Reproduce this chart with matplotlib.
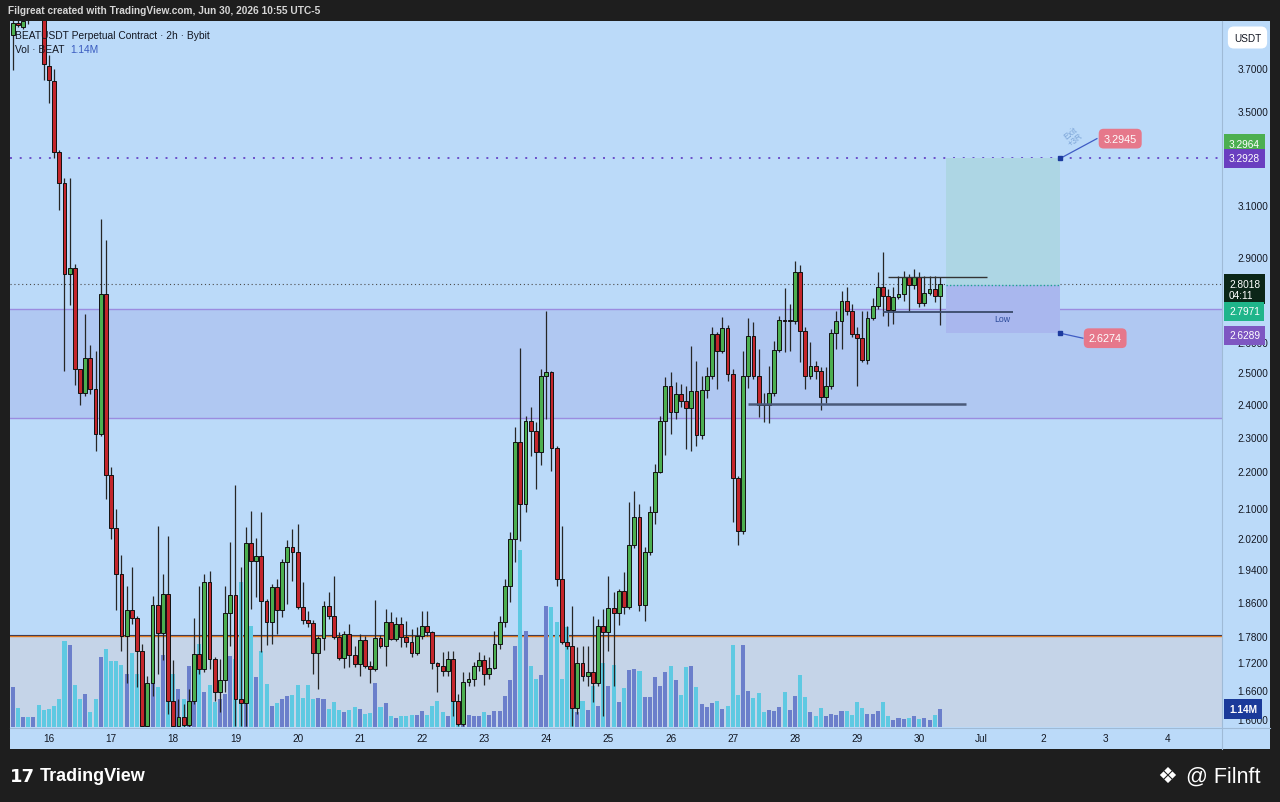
import numpy as np
import matplotlib
matplotlib.use("Agg")
import matplotlib.pyplot as plt
from matplotlib import transforms
from matplotlib.patches import Rectangle
from matplotlib.lines import Line2D
from matplotlib.ticker import NullLocator

plt.rcParams['font.family'] = ['Liberation Sans', 'DejaVu Sans']

# ---------------- data (2h candles, BEATUSDT, 15 Jun 10:00 -> 30 Jun 08:00) ----------------
opens = np.array([
    3.861, 3.921, 3.901, 3.99, 3.96, 4.02, 4.00, 3.709, 3.638, 3.320,
    3.191, 2.838, 2.860, 2.510, 2.434, 2.546, 2.447, 2.309, 2.765, 2.190,
    2.046, 1.927, 1.780, 1.841, 1.821, 1.746, 1.585, 1.675, 1.852, 1.787,
    1.878, 1.637, 1.585, 1.603, 1.587, 1.637, 1.739, 1.705, 1.908, 1.728,
    1.656, 1.682, 1.833, 1.876, 1.641, 1.632, 2.006, 1.960, 1.973, 1.861,
    1.812, 1.896, 1.841, 1.957, 1.996, 1.983, 1.847, 1.817, 1.810, 1.741,
    1.775, 1.850, 1.826, 1.778, 1.730, 1.785, 1.737, 1.716, 1.771, 1.712,
    1.705, 1.775, 1.757, 1.812, 1.773, 1.807, 1.778, 1.766, 1.741, 1.780,
    1.803, 1.789, 1.719, 1.712, 1.701, 1.728, 1.637, 1.589, 1.677, 1.684,
    1.712, 1.726, 1.694, 1.707, 1.761, 1.812, 1.898, 2.016, 2.285, 2.110,
    2.348, 2.318, 2.255, 2.488, 2.500, 2.267, 1.915, 1.766, 1.757, 1.622,
    1.719, 1.690, 1.699, 1.675, 1.803, 1.789, 1.845, 1.833, 1.886, 1.847,
    2.001, 2.074, 1.852, 1.983, 2.088, 2.199, 2.348, 2.456, 2.375, 2.431,
    2.409, 2.387, 2.440, 2.306, 2.443, 2.488, 2.626, 2.569, 2.647, 2.494,
    2.182, 2.038, 2.488, 2.619, 2.488, 2.399, 2.396, 2.434, 2.572, 2.674,
    2.671, 2.672, 2.845, 2.636, 2.488, 2.520, 2.504, 2.422, 2.456, 2.630,
    2.671, 2.740, 2.705, 2.626, 2.612, 2.540, 2.681, 2.722, 2.790, 2.758,
    2.709, 2.754, 2.765, 2.826, 2.797, 2.826, 2.733, 2.769, 2.783, 2.758])
highs = np.array([
    3.97, 3.941, 3.951, 4.03, 4.06, 4.08, 4.03, 3.763, 3.695, 3.329,
    3.211, 3.211, 2.875, 2.510, 2.695, 2.589, 2.569, 3.046, 2.964, 2.213,
    2.096, 1.975, 1.898, 1.945, 1.826, 1.761, 1.690, 1.873, 2.051, 1.927,
    2.024, 1.726, 1.641, 1.630, 1.662, 1.821, 1.898, 1.927, 1.935, 1.732,
    1.728, 1.898, 2.008, 2.162, 1.945, 2.048, 2.091, 2.019, 2.088, 1.866,
    1.903, 1.915, 1.965, 2.014, 2.043, 2.056, 1.908, 1.838, 1.817, 1.780,
    1.861, 1.884, 1.922, 1.789, 1.791, 1.807, 1.757, 1.785, 1.780, 1.723,
    1.864, 1.782, 1.843, 1.836, 1.824, 1.824, 1.814, 1.796, 1.801, 1.838,
    1.838, 1.791, 1.721, 1.744, 1.746, 1.746, 1.651, 1.699, 1.699, 1.721,
    1.744, 1.737, 1.732, 1.791, 1.826, 1.915, 2.035, 2.330, 2.579, 2.363,
    2.390, 2.345, 2.510, 2.705, 2.504, 2.273, 2.051, 1.803, 1.850, 1.755,
    1.757, 1.757, 1.826, 1.819, 1.843, 1.922, 1.884, 1.891, 1.932, 2.115,
    2.145, 2.110, 1.996, 2.104, 2.221, 2.363, 2.484, 2.500, 2.469, 2.462,
    2.456, 2.586, 2.536, 2.488, 2.517, 2.650, 2.633, 2.685, 2.657, 2.510,
    2.188, 2.569, 2.681, 2.667, 2.576, 2.434, 2.520, 2.602, 2.688, 2.787,
    2.730, 2.886, 2.871, 2.650, 2.599, 2.536, 2.517, 2.517, 2.643, 2.705,
    2.776, 2.790, 2.730, 2.650, 2.705, 2.705, 2.751, 2.845, 2.919, 2.783,
    2.790, 2.830, 2.849, 2.838, 2.856, 2.845, 2.830, 2.830, 2.830, 2.826])
lows = np.array([
    3.690, 3.901, 3.891, 3.916, 3.95, 3.97, 3.643, 3.537, 3.295, 3.081,
    2.504, 2.726, 2.459, 2.396, 2.425, 2.431, 2.258, 2.303, 2.123, 2.016,
    1.841, 1.746, 1.675, 1.807, 1.666, 1.583, 1.581, 1.647, 1.694, 1.726,
    1.609, 1.579, 1.579, 1.579, 1.579, 1.630, 1.694, 1.699, 1.705, 1.637,
    1.614, 1.656, 1.757, 1.585, 1.585, 1.585, 1.843, 1.871, 1.744, 1.759,
    1.761, 1.785, 1.824, 1.855, 1.910, 1.843, 1.807, 1.801, 1.694, 1.662,
    1.748, 1.819, 1.773, 1.726, 1.707, 1.710, 1.710, 1.690, 1.707, 1.675,
    1.701, 1.752, 1.712, 1.771, 1.768, 1.755, 1.755, 1.732, 1.737, 1.773,
    1.780, 1.705, 1.656, 1.690, 1.690, 1.605, 1.585, 1.585, 1.669, 1.669,
    1.701, 1.671, 1.684, 1.705, 1.750, 1.801, 1.859, 1.958, 2.011, 2.088,
    2.244, 2.151, 2.218, 2.354, 2.201, 1.898, 1.761, 1.750, 1.585, 1.609,
    1.679, 1.669, 1.634, 1.669, 1.605, 1.746, 1.669, 1.805, 1.831, 1.843,
    1.993, 1.838, 1.814, 1.975, 2.056, 2.196, 2.247, 2.309, 2.354, 2.390,
    2.264, 2.258, 2.273, 2.294, 2.418, 2.478, 2.447, 2.563, 2.472, 2.061,
    2.001, 2.030, 2.450, 2.478, 2.360, 2.345, 2.342, 2.425, 2.566, 2.566,
    2.569, 2.660, 2.533, 2.447, 2.478, 2.478, 2.381, 2.403, 2.447, 2.576,
    2.576, 2.692, 2.616, 2.456, 2.533, 2.527, 2.674, 2.712, 2.688, 2.654,
    2.660, 2.747, 2.740, 2.705, 2.783, 2.719, 2.723, 2.762, 2.737, 2.657])
closes = np.array([
    3.921, 3.911, 3.931, 3.96, 4.02, 4.00, 3.719, 3.643, 3.320, 3.191,
    2.838, 2.860, 2.510, 2.434, 2.546, 2.447, 2.309, 2.765, 2.190, 2.046,
    1.927, 1.780, 1.841, 1.821, 1.746, 1.585, 1.675, 1.852, 1.787, 1.878,
    1.637, 1.585, 1.603, 1.587, 1.637, 1.739, 1.705, 1.908, 1.728, 1.656,
    1.682, 1.833, 1.876, 1.641, 1.632, 2.006, 1.960, 1.973, 1.861, 1.812,
    1.896, 1.841, 1.957, 1.996, 1.983, 1.847, 1.817, 1.810, 1.741, 1.775,
    1.850, 1.826, 1.778, 1.730, 1.785, 1.737, 1.716, 1.771, 1.712, 1.705,
    1.775, 1.757, 1.812, 1.773, 1.807, 1.778, 1.766, 1.741, 1.780, 1.803,
    1.789, 1.719, 1.712, 1.701, 1.728, 1.637, 1.589, 1.677, 1.684, 1.712,
    1.726, 1.694, 1.707, 1.761, 1.812, 1.898, 2.016, 2.285, 2.110, 2.348,
    2.318, 2.255, 2.488, 2.500, 2.267, 1.915, 1.766, 1.757, 1.622, 1.719,
    1.690, 1.699, 1.675, 1.803, 1.789, 1.845, 1.833, 1.886, 1.847, 2.001,
    2.074, 1.852, 1.983, 2.088, 2.199, 2.348, 2.456, 2.375, 2.431, 2.409,
    2.387, 2.440, 2.306, 2.443, 2.488, 2.626, 2.569, 2.647, 2.494, 2.182,
    2.038, 2.488, 2.619, 2.488, 2.396, 2.396, 2.434, 2.572, 2.674, 2.671,
    2.672, 2.845, 2.636, 2.488, 2.520, 2.504, 2.422, 2.456, 2.630, 2.671,
    2.740, 2.705, 2.626, 2.612, 2.540, 2.681, 2.722, 2.790, 2.758, 2.709,
    2.754, 2.765, 2.826, 2.797, 2.826, 2.733, 2.769, 2.783, 2.758, 2.8018])
# volume in millions
volumes = np.array([
    2.53, 1.20, 0.63, 0.63, 0.63, 1.39, 1.08, 1.14, 1.33, 1.77,
    5.44, 5.19, 2.66, 1.77, 2.09, 0.95, 1.77, 4.43, 4.94, 4.18,
    4.18, 3.92, 3.35, 4.68, 3.35, 3.23, 2.22, 5.38, 2.53, 4.56,
    5.38, 3.35, 2.41, 1.77, 3.86, 4.30, 5.25, 2.22, 2.66, 1.58,
    1.77, 2.09, 4.49, 4.30, 9.18, 5.57, 6.39, 3.17, 4.81, 2.72,
    1.33, 1.52, 1.77, 1.96, 2.03, 2.66, 1.84, 2.66, 1.77, 1.84,
    1.77, 1.14, 1.58, 1.08, 0.95, 1.08, 1.27, 1.14, 0.82, 0.89,
    2.79, 1.27, 1.52, 0.70, 0.57, 0.70, 0.70, 0.76, 0.76, 1.01,
    0.76, 1.33, 1.65, 0.95, 0.70, 1.58, 0.70, 0.76, 0.76, 0.70,
    0.70, 0.95, 0.76, 1.01, 1.01, 1.96, 2.98, 5.13, 11.2, 6.08,
    3.86, 3.04, 3.29, 7.66, 7.60, 6.65, 3.04, 6.33, 1.77, 0.95,
    1.65, 1.08, 2.60, 1.33, 4.05, 2.60, 3.92, 1.58, 2.47, 3.61,
    3.67, 3.54, 1.90, 1.90, 3.17, 2.60, 3.48, 3.86, 2.98, 2.03,
    3.80, 3.86, 2.53, 1.46, 1.27, 1.52, 1.65, 1.14, 1.33, 5.19,
    2.03, 5.19, 2.28, 1.84, 2.15, 0.95, 1.08, 1.01, 1.27, 2.22,
    1.08, 1.96, 3.29, 1.90, 0.95, 0.70, 1.20, 0.70, 0.82, 0.76,
    1.01, 1.01, 0.76, 1.58, 1.20, 0.82, 0.82, 1.01, 1.58, 0.70,
    0.44, 0.57, 0.51, 0.57, 0.70, 0.51, 0.57, 0.44, 0.76, 1.14])

day_labels = ["16", "17", "18", "19", "20", "21", "22", "23", "24", "25",
              "26", "27", "28", "29", "30", "Jul", "2", "3", "4"]
day_idx = [7 + 12 * k for k in range(len(day_labels))]   # candle index of 00:00

price_ticks = [3.7, 3.5, 3.1, 2.9, 2.6, 2.5, 2.4, 2.3, 2.2, 2.1, 2.02,
               1.94, 1.86, 1.78, 1.72, 1.66, 1.60]

last_price = 2.8018
entry, target, stop = 2.7971, 3.2928, 2.6289
target_tag = 3.2964
hline_level = 3.2928
zone_top, zone_bot = 2.712, 2.357
vol_zone_top = 1.78
level_240, level_282, level_low = 2.400, 2.826, 2.702
note_exit, note_stop = "3.2945", "2.6274"

# ---------------- styling ----------------
BG = "#bbdaf9"
GREEN = "#4caf50"
RED = "#c4262c"
VOL_UP = "#6b7fcb"
VOL_DN = "#5ec9e2"
TXT = "#131722"
VOL_TOP = 44.7      # volume (M) at the top of the pane

W, H = 1280, 803
fig = plt.figure(figsize=(12.8, 8.03), dpi=100, facecolor="#1e1e1e")


def fx(px):
    return px / W


def fy(py):
    return 1 - py / H


fig.patches.append(Rectangle((fx(10), fy(750)), fx(1270) - fx(10), fy(22) - fy(750),
                             transform=fig.transFigure, facecolor=BG,
                             edgecolor="none", zorder=-5))

ax = fig.add_axes([fx(10), fy(728), fx(1222) - fx(10), fy(22) - fy(728)])
ax.set_facecolor(BG)
ax.set_yscale("log")
for s in ax.spines.values():
    s.set_visible(False)

# zones / levels
ax.axhspan(zone_bot, zone_top, color="#b0c8f2", zorder=0.5, lw=0)
ax.axhline(zone_top, color="#9b8ce0", lw=1, zorder=1)
ax.axhline(zone_bot, color="#9b8ce0", lw=1, zorder=1)
ax.axhspan(1.0, vol_zone_top, color="#c5d4e8", zorder=0.5, lw=0)
ax.axhline(vol_zone_top * 1.0012, color="#1f2d5c", lw=0.8, zorder=1)
ax.axhline(vol_zone_top * 0.9992, color="#e07b22", lw=1, zorder=1)
ax.axhline(hline_level, color="#6a4fc9", lw=1.4, ls=(0, (1, 4)), zorder=1)
ax.axhline(last_price, color="#4a4a4a", lw=0.8, ls=(0, (1, 2.5)), zorder=1)

# long position tool
x0, x1 = 180.2, 202.2
ax.fill_between([x0, x1], entry, target, color="#add6e4", lw=0, zorder=1.2)
ax.fill_between([x0, x1], stop, entry, color="#a9b7ee", lw=0, zorder=1.2)
ax.hlines(entry, x0, x1, color="#1fa58f", lw=1, linestyles=(0, (1, 1.5)), zorder=1.3)

# volume bars (axes-fraction heights)
idx = np.arange(len(opens))
up = closes >= opens
ax.bar(idx, volumes / VOL_TOP, bottom=0, width=0.78,
       color=np.where(up, VOL_UP, VOL_DN), transform=ax.get_xaxis_transform(),
       zorder=2, lw=0)

# candles
ax.vlines(idx, lows, highs, color="#262626", lw=0.9, zorder=3)
body = np.maximum(np.abs(closes - opens), 0.0015)
ax.bar(idx, body, bottom=np.minimum(opens, closes), width=0.74,
       color=np.where(up, GREEN, RED), edgecolor="#111111", linewidth=0.7, zorder=4)

# horizontal drawings
ax.hlines(level_240, 141.9, 184.0, color="#4a5a7a", lw=1.8, zorder=5)
ax.hlines(level_282, 169.0, 188.1, color="#333333", lw=1.0, zorder=5)
ax.hlines(level_low, 168.0, 193.1, color="#3a4a6a", lw=1.3, zorder=5)
ax.text(191, 2.680, "Low", fontsize=6.3, color="#2c4a9a", ha="center", va="center", zorder=6)

# notes on the position tool
ax.plot([x1, 209.3], [target, 3.378], color="#3f5cc4", lw=0.9, zorder=6)
ax.plot([x1, 206.6], [stop, 2.612], color="#3f5cc4", lw=0.9, zorder=6)
ax.plot([x1, x1], [target, stop], ls="none", marker="s", ms=3, color="#1c3a9e", zorder=7)
ax.text(213.8, 3.378, note_exit, ha="center", va="center", fontsize=7.8, color="white",
        bbox=dict(boxstyle="round,pad=0.45", fc="#e6788b", ec="none"), zorder=8)
ax.text(210.9, 2.612, note_stop, ha="center", va="center", fontsize=7.8, color="white",
        bbox=dict(boxstyle="round,pad=0.45", fc="#e6788b", ec="none"), zorder=8)
ax.text(204.6, 3.39, "Exit\n+3R", ha="center", va="center", fontsize=6.2, color="#7ea6d8",
        rotation=38, linespacing=0.9, zorder=8)

ax.set_xlim(-0.52, 233.45)
ax.set_ylim(1.5826, 3.931)

# axes ticks
ax.yaxis.tick_right()
ax.set_yticks(price_ticks)
ax.set_yticklabels([f"{t:.4f}" for t in price_ticks])
ax.yaxis.set_minor_locator(NullLocator())
ax.tick_params(axis="y", length=0, pad=11, labelsize=7.2, labelcolor=TXT)
ax.set_xticks(day_idx)
ax.set_xticklabels(day_labels)
ax.tick_params(axis="x", length=0, pad=4, labelsize=7.2, labelcolor=TXT)

# price tags on the right scale
tag_tr = transforms.blended_transform_factory(fig.transFigure, ax.transData)


def price_tag(price, text, fc, dy=0):
    ax.annotate(text, xy=(fx(1229), price), xycoords=tag_tr, xytext=(0, dy),
                textcoords="offset points", ha="left", va="center", fontsize=7.3,
                color="white", annotation_clip=False, zorder=10, linespacing=1.1,
                bbox=dict(boxstyle="square,pad=0.45", fc=fc, ec="none"))


price_tag(target_tag, f"{target_tag:.4f}", "#4caf50", dy=10)
price_tag(hline_level, f"{hline_level:.4f}", "#6a3fc0")
price_tag(last_price, f"{last_price:.4f}\n04:11", "#0b2618", dy=-4)
price_tag(entry, f"{entry:.4f}", "#1fb58a", dy=-19)
price_tag(stop, f"{stop:.4f}", "#7e57c2", dy=-1.5)
vol_tr = transforms.blended_transform_factory(fig.transFigure, ax.transAxes)
ax.annotate("1.14M", xy=(fx(1229), volumes[-1] / VOL_TOP), xycoords=vol_tr,
            ha="left", va="center", fontsize=7.3, color="white", fontweight="bold",
            annotation_clip=False, zorder=10,
            bbox=dict(boxstyle="square,pad=0.45", fc="#1a3a9a", ec="none"))

# scale separators
fig.add_artist(Line2D([fx(1222), fx(1222)], [fy(22), fy(750)], color="#9fbad6", lw=0.8))
fig.add_artist(Line2D([fx(10), fx(1270)], [fy(728.5), fy(728.5)], color="#9fbad6", lw=0.8))

fig.text(fx(1247.5), fy(38.5), "USDT", ha="center", va="center", fontsize=7.2, color=TXT,
         bbox=dict(boxstyle="round,pad=0.6", fc="white", ec="none"))

# header texts
fig.text(fx(8), fy(11), "Filgreat created with TradingView.com, Jun 30, 2026 10:55 UTC-5",
         color="#d6d6d6", fontsize=7.3, fontweight="bold", va="center")
fig.text(fx(15), fy(36), "BEATUSDT Perpetual Contract · 2h · Bybit",
         color=TXT, fontsize=7.4, va="center")
fig.text(fx(15), fy(50), "Vol · BEAT", color=TXT, fontsize=7.4, va="center")
fig.text(fx(70), fy(50), "1.14M", color="#3a5cc0", fontsize=7.4, va="center")

# footer
fig.text(fx(10), fy(777), "17", color="white", fontsize=13, fontweight="bold",
         va="center", family="DejaVu Sans")
fig.text(fx(40), fy(777), "TradingView", color="white", fontsize=13, fontweight="bold",
         va="center")
fig.text(fx(1157), fy(777), "❖", color="white", fontsize=16, va="center",
         family="DejaVu Sans")
fig.text(fx(1186), fy(777), "@ Filnft", color="white", fontsize=15.5, va="center")

fig.savefig("out.png", dpi=100, facecolor=fig.get_facecolor())
